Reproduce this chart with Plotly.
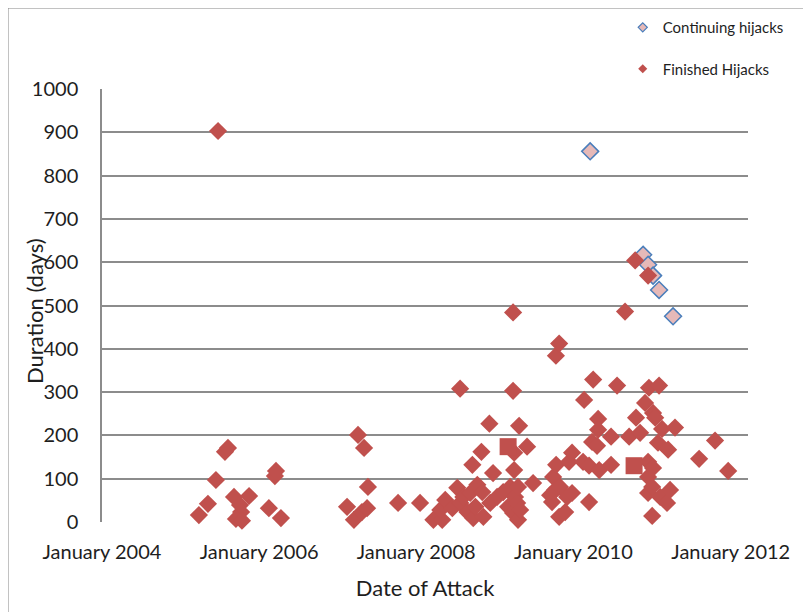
import plotly.graph_objects as go

# ---------------- data ----------------
finished_dates = [
    "2005-04-08", "2005-05-20", "2005-06-26", "2005-07-06", "2005-08-07", "2005-08-21",
    "2005-09-18", "2005-11-27", "2005-10-16", "2005-10-21", "2005-09-27", "2005-10-25",
    "2006-02-27", "2006-03-27", "2006-04-01", "2006-04-24",
    "2007-02-25", "2007-03-29", "2007-04-17", "2007-05-05", "2007-05-15", "2007-05-29",
    "2007-06-02", "2007-10-20",
    "2008-01-30", "2008-04-01", "2008-05-12", "2008-05-03", "2008-05-26", "2008-06-28",
    "2008-07-21", "2008-08-04", "2008-08-03", "2008-08-18", "2008-09-06", "2008-09-19",
    "2008-09-29", "2008-10-03", "2008-10-13", "2008-10-22", "2008-11-10", "2008-11-14",
    "2008-11-19", "2008-12-17", "2008-12-21",
    "2009-01-03", "2009-01-22", "2009-02-19", "2009-03-14", "2009-03-23", "2009-04-06",
    "2009-04-06", "2009-04-06", "2009-04-11", "2009-04-11", "2009-04-15", "2009-04-25",
    "2009-04-29", "2009-04-29", "2009-05-04", "2009-05-09", "2009-06-10", "2009-07-08",
    "2009-09-25", "2009-10-04", "2009-10-09", "2009-10-18", "2009-10-23", "2009-10-22",
    "2009-11-06", "2009-11-06", "2009-11-10", "2009-12-04", "2009-12-13", "2009-12-22",
    "2010-01-05", "2010-01-05", "2010-02-25", "2010-03-02", "2010-03-25", "2010-03-25",
    "2010-04-08", "2010-04-13", "2010-05-01", "2010-05-06", "2010-05-06", "2010-05-11",
    "2010-07-05", "2010-07-05", "2010-08-02", "2010-09-08", "2010-09-27", "2010-10-25",
    "2010-10-29", "2010-11-17", "2010-12-10", "2010-12-24", "2010-12-24", "2010-12-24",
    "2010-12-24", "2010-12-28",
    "2011-01-12", "2011-01-12", "2011-01-16", "2011-01-16", "2011-01-26", "2011-02-08",
    "2011-02-13", "2011-02-18", "2011-02-27", "2011-03-22", "2011-03-27", "2011-04-05",
    "2011-04-28", "2011-08-18", "2011-10-31", "2011-12-31",
]
finished_days = [
    16, 42, 97, 903, 162, 171,
    58, 60, 39, 23, 7, 3,
    32, 106, 118, 9,
    35, 5, 201, 23, 171, 32,
    81, 44,
    44, 5, 5, 28, 51, 32,
    79, 44, 308, 58, 23, 67,
    132, 9, 35, 86, 162, 69,
    12, 227, 44,
    113, 58, 69, 35, 81, 484,
    303, 21, 120, 160, 58, 44,
    81, 5, 222, 28, 174, 90,
    62, 46, 104, 74, 132, 384,
    412, 12, 81, 23, 58, 139,
    67, 160, 139, 282, 130, 46,
    185, 329, 176, 238, 213, 120,
    197, 132, 315, 486, 197, 604,
    241, 206, 275, 569, 139, 104,
    67, 310,
    81, 14, 252, 125, 241, 183,
    315, 58, 215, 44, 167, 74,
    218, 146, 188, 118,
]
# two finished points drawn with a square marker in the original
finished_sq_dates = ["2009-03-14", "2010-10-20"]
finished_sq_days = [174, 130]

continuing_dates = ["2010-03-30", "2010-12-01", "2010-12-24", "2011-01-16", "2011-02-13", "2011-04-19"]
continuing_days = [856, 617, 594, 569, 536, 475]

series_names = ["Continuing hijacks", "Finished Hijacks"]

x_tick_dates = ["2004-01-14", "2006-01-13", "2008-01-12", "2010-01-11", "2012-01-12"]
x_tick_labels = ["January 2004", "January 2006", "January 2008", "January 2010", "January 2012"]
x_range = ["2004-01-14", "2012-04-01"]

y_tick_vals = [0, 100, 200, 300, 400, 500, 600, 700, 800, 900, 1000]
y_tick_labels = [str(v) for v in y_tick_vals]

x_title = "Date of Attack"
y_title = "Duration (days)"

# ---------------- styles ----------------
RED = "#C0504D"
PINK = "#E6B9B8"
BLUE = "#4A7EBB"
GRID = "#8C8C8C"
FONT = "Lato"
TXT = "#1E1E1E"

fig = go.Figure()

# continuing (drawn first, under the finished ones)
fig.add_trace(go.Scatter(
    x=continuing_dates, y=continuing_days, mode="markers", name=series_names[0],
    marker=dict(symbol="diamond", size=13, color=PINK, line=dict(color=BLUE, width=1.5)),
    showlegend=False, cliponaxis=False,
))
fig.add_trace(go.Scatter(
    x=finished_dates, y=finished_days, mode="markers", name=series_names[1],
    marker=dict(symbol="diamond", size=14, color=RED, line=dict(color=RED, width=0)),
    showlegend=False, cliponaxis=False,
))
fig.add_trace(go.Scatter(
    x=finished_sq_dates, y=finished_sq_days, mode="markers", name=series_names[1],
    marker=dict(symbol="square", size=17, color=RED, line=dict(color=RED, width=0)),
    showlegend=False, cliponaxis=False,
))

# legend entries (small markers as in the original legend)
fig.add_trace(go.Scatter(
    x=[None], y=[None], mode="markers", name=series_names[0], legendgroup="a",
    marker=dict(symbol="diamond", size=7, color=PINK, line=dict(color=BLUE, width=1.2)),
))
fig.add_trace(go.Scatter(
    x=[None], y=[None], mode="markers", name=series_names[1], legendgroup="b",
    marker=dict(symbol="diamond", size=7, color=RED, line=dict(color=RED, width=0)),
))

# plot area in page pixels (page has an 8px body offset)
L, R, T, B = 94, 740, 81, 514
PW, PH = R - L, B - T

fig.update_layout(
    width=811, height=612,
    margin=dict(l=L, r=811 - R, t=T, b=612 - B, autoexpand=False),
    paper_bgcolor="white", plot_bgcolor="white",
    font=dict(family=FONT, color=TXT),
    legend=dict(
        xref="container", yref="container",
        x=0.758, y=0.995, xanchor="left", yanchor="top",
        font=dict(size=15, family=FONT, color=TXT),
        tracegroupgap=19, bgcolor="rgba(0,0,0,0)", itemwidth=30,
    ),
    xaxis=dict(
        type="date", range=x_range,
        tickvals=x_tick_dates, ticktext=x_tick_labels,
        showgrid=False, zeroline=False,
        showline=False, ticks="", ticklabelstandoff=16,
        tickfont=dict(size=20, family=FONT, color=TXT),
        title=dict(text=x_title, font=dict(size=22, family=FONT, color=TXT), standoff=18),
    ),
    yaxis=dict(
        range=[0, 1000], tickvals=y_tick_vals, ticktext=y_tick_labels,
        showgrid=True, gridcolor=GRID, gridwidth=1.5,
        zeroline=False, showline=True, linecolor=GRID, linewidth=1.5,
        ticks="", ticklabelstandoff=18,
        tickfont=dict(size=20, family=FONT, color=TXT),
    ),
    annotations=[dict(
        text=y_title, textangle=-90, xref="paper", yref="paper",
        x=(34 - 102) / 646, y=(522 - 311) / 433, xanchor="center", yanchor="middle",
        showarrow=False, font=dict(size=22, family=FONT, color=TXT),
    )],
    shapes=[dict(
        type="rect", xref="paper", yref="paper", layer="below",
        x0=(8 - 102) / 646, x1=(806 - 102) / 646,
        y0=(522 - 640) / 433, y1=(522 - 8) / 433,
        line=dict(color="#868686", width=1), fillcolor="rgba(0,0,0,0)",
    )],
)

fig.write_html("out.html")
